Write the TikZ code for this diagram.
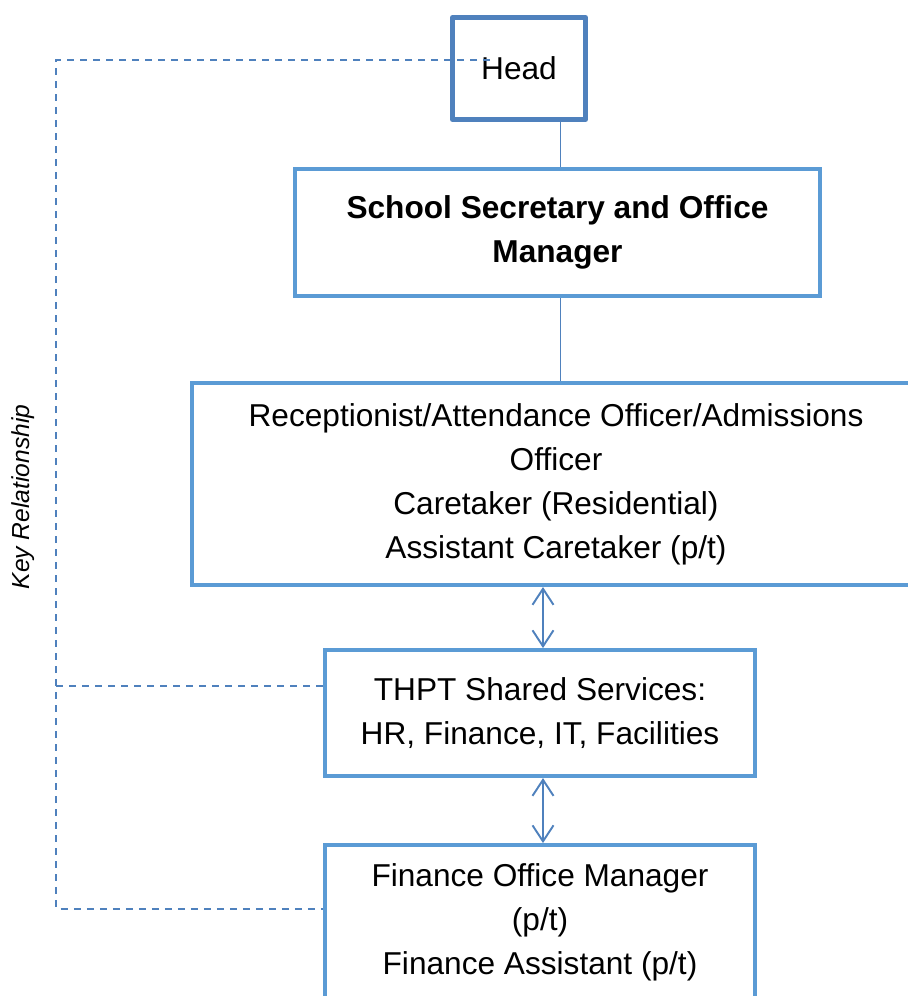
\documentclass[tikz,border=0pt]{standalone}
\usepackage{fontspec}
\setmainfont{Liberation Sans}
\usepackage{tikz}
\usetikzlibrary{arrows.meta, positioning}
\usepackage{xcolor}
\definecolor{boxblue}{HTML}{5B9BD5}
\definecolor{lineblue}{HTML}{4F81BD}
\tikzset{
  rolebox/.style={rectangle, draw=boxblue, line width=2.3pt, fill=white,
                  align=center, font=\fontsize{18}{25}\selectfont},
  headbox/.style={rolebox, draw=lineblue, line width=2.8pt, line join=round},
  link/.style={draw=lineblue, line width=1pt},
  twoway/.style={link, line width=1.1pt,
                 {Straight Barb[length=0.32cm, width=0.42cm]}-{Straight Barb[length=0.32cm, width=0.42cm]}},
  keylink/.style={link, line width=1.1pt, dash pattern=on 4pt off 3.4pt},
}

\begin{document}
\begin{tikzpicture}
  \useasboundingbox (0,0) rectangle (18.16,-19.92);
  \clip (0,0) rectangle (18.16,-19.92);

  % reporting line
  \node [headbox, minimum width=2.66cm, minimum height=2.04cm] (head) at (10.38,-1.37) {Head};
  \node [rolebox, font=\fontsize{18}{25}\selectfont\bfseries,
         minimum width=10.5cm, minimum height=2.54cm,
         below=0.9cm of head, xshift=0.77cm] (secretary)
        {School Secretary and Office\\Manager};
  \node [rolebox, minimum width=14.56cm, minimum height=4.04cm,
         below=1.66cm of secretary, xshift=-0.03cm] (frontoffice)
        {Receptionist/Attendance Officer/Admissions\\Officer\\Caretaker (Residential)\\Assistant Caretaker (p/t)};
  \node [rolebox, minimum width=8.6cm, minimum height=2.52cm,
         below=1.22cm of frontoffice, xshift=-0.32cm] (shared)
        {THPT Shared Services:\\HR, Finance, IT, Facilities};
  \node [rolebox, minimum width=8.6cm, minimum height=3.1cm,
         below=1.3cm of shared] (finance)
        {Finance Office Manager\\(p/t)\\Finance Assistant (p/t)};

  \coordinate (spine) at ([xshift=0.06cm]secretary.north);
  \draw [link] (spine) -- (spine |- head.south);
  \draw [link] (spine |- frontoffice.north) -- (spine |- secretary.south);
  \coordinate (swap) at ([xshift=0.06cm]shared.north);
  \draw [twoway] (swap |- frontoffice.south) -- (swap);
  \draw [twoway] (swap |- shared.south) -- (swap |- finance.north);

  % key relationship
  \coordinate (headtap) at ([xshift=0.8cm, yshift=0.17cm]head.west);
  \coordinate (keytop) at (1.12,-1.2);
  \coordinate (sharedtap) at ([yshift=0.54cm]shared.west);
  \coordinate (financetap) at ([yshift=0.28cm]finance.west);
  \draw [keylink] (headtap) -- (keytop) |- (financetap);
  \draw [keylink] (sharedtap) -- (keytop |- sharedtap);
  \node [rotate=90, font=\fontsize{14}{16}\selectfont\itshape] (keylabel) at (0.46,-9.94) {Key Relationship};
\end{tikzpicture}
\end{document}
